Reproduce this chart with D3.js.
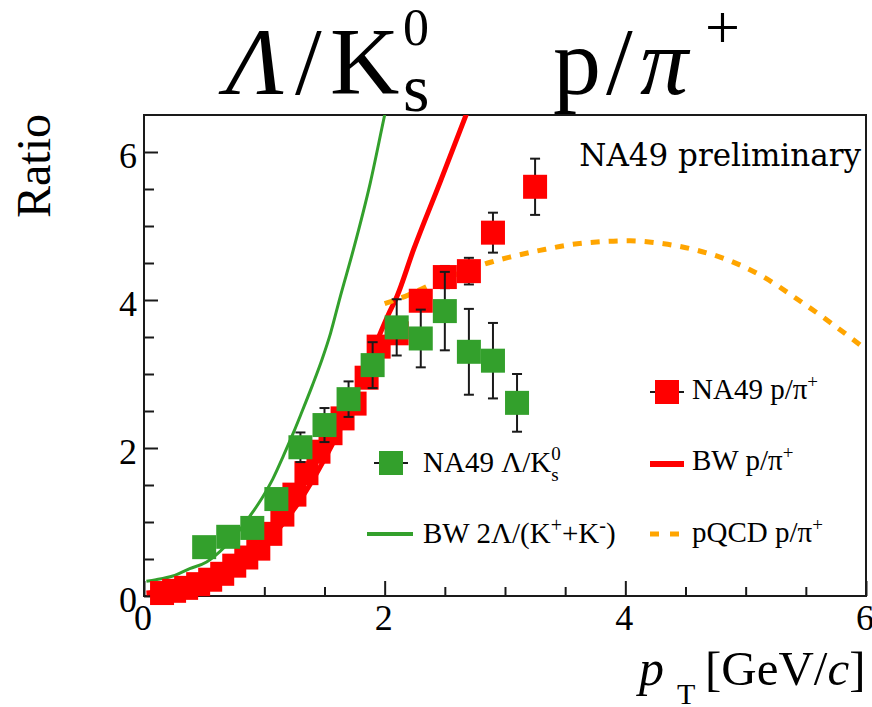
<!DOCTYPE html>
<html>
<head>
<meta charset="utf-8">
<script src="https://cdn.jsdelivr.net/npm/d3@7"></script>
<style>
  body { margin: 0; background: #fff; }
  svg { display: block; }
  text { font-family: "Liberation Serif", "Times New Roman", serif; fill: #000; }
</style>
</head>
<body>
<svg id="chart" width="872" height="707"></svg>
<script>
// ---- Data -------------------------------------------------------------
// NA49 Lambda / K0s ratio vs pT
const lambdaPt  = [0.5, 0.7, 0.9, 1.1, 1.3, 1.5, 1.7, 1.9, 2.1, 2.3, 2.5, 2.7, 2.9, 3.1];
const lambdaVal = [0.66, 0.80, 0.92, 1.31, 2.01, 2.31, 2.66, 3.12, 3.63, 3.48, 3.85, 3.30, 3.18, 2.61];
const lambdaErr = [0.05, 0.06, 0.08, 0.10, 0.20, 0.23, 0.24, 0.31, 0.38, 0.39, 0.53, 0.58, 0.51, 0.39];

// NA49 p / pi+ ratio vs pT
const ppiPt  = [0.15, 0.25, 0.35, 0.45, 0.55, 0.65, 0.75, 0.85, 0.95, 1.05, 1.15, 1.25, 1.35,
                1.45, 1.55, 1.65, 1.75, 1.85, 1.95, 2.1, 2.3, 2.5, 2.7, 2.9, 3.25];
const ppiVal = [0.04, 0.07, 0.11, 0.16, 0.22, 0.30, 0.41, 0.52, 0.64, 0.84, 1.10, 1.37, 1.66,
                1.95, 2.20, 2.40, 2.60, 2.95, 3.37, 3.55, 3.99, 4.31, 4.39, 4.91, 5.53];
const ppiErr = [0.01, 0.01, 0.01, 0.01, 0.01, 0.02, 0.02, 0.02, 0.03, 0.03, 0.04, 0.04, 0.05,
                0.05, 0.06, 0.06, 0.07, 0.08, 0.10, 0.12, 0.13, 0.15, 0.18, 0.27, 0.38];

// Blast-wave 2Lambda/(K+ + K-)
const bwLamPt  = [0.02, 0.10, 0.24, 0.38, 0.52, 0.63, 0.75, 0.88, 0.98, 1.07, 1.16, 1.24, 1.31,
                  1.40, 1.48, 1.55, 1.63, 1.74, 1.88, 2.00, 2.06];
const bwLamVal = [0.20, 0.22, 0.27, 0.37, 0.46, 0.60, 0.80, 1.08, 1.32, 1.58, 1.90, 2.20, 2.48,
                  2.85, 3.20, 3.55, 4.04, 4.68, 5.58, 6.50, 6.95];

// Blast-wave p/pi+
const bwPpiPt  = [0.02, 0.10, 0.30, 0.50, 0.70, 0.90, 1.10, 1.30, 1.50, 1.70, 1.85, 2.03, 2.10,
                  2.24, 2.46, 2.70];
const bwPpiVal = [0.04, 0.05, 0.09, 0.18, 0.33, 0.55, 0.87, 1.30, 1.85, 2.50, 3.10, 3.80, 4.04,
                  4.68, 5.59, 6.60];

// pQCD p/pi+
const pqcdPt  = [2.00, 2.20, 2.40, 2.65, 2.88, 3.04, 3.29, 3.60, 4.04, 4.32, 4.60, 4.87, 5.15,
                 5.43, 5.70, 6.00];
const pqcdVal = [3.95, 4.07, 4.22, 4.38, 4.51, 4.58, 4.67, 4.76, 4.80, 4.76, 4.67, 4.53, 4.31,
                 4.01, 3.70, 3.33];

const xTickLabels = [0, 2, 4, 6];
const yTickLabels = [0, 2, 4, 6];
const xMinorTicks = d3.range(0.5, 6, 0.5).filter(v => v % 2 !== 0);
const yMinorTicks = d3.range(0.5, 6.01, 0.5).filter(v => v % 2 !== 0);

// ---- Colours ------------------------------------------------------------
const RED = "#ff0000";
const GREEN = "#33a02c";
const ORANGE = "#ffa500";
const INK = "#1a1a1a";

// ---- Scales -------------------------------------------------------------
const svg = d3.select("#chart");
const plot = { left: 144, right: 866, top: 115, bottom: 596 };
const x = d3.scaleLinear().domain([0, 6]).range([plot.left, plot.right]);
const y = d3.scaleLinear().domain([0, 6.5]).range([plot.bottom, plot.top]);

svg.append("defs").append("clipPath").attr("id", "plotClip")
  .append("rect")
  .attr("x", plot.left).attr("y", plot.top)
  .attr("width", plot.right - plot.left).attr("height", plot.bottom - plot.top);

// ---- Frame & ticks ----------------------------------------------------
svg.append("rect")
  .attr("x", plot.left).attr("y", plot.top)
  .attr("width", plot.right - plot.left).attr("height", plot.bottom - plot.top)
  .attr("fill", "none").attr("stroke", INK).attr("stroke-width", 2);

function tickGroup(axis, transform) {
  const g = svg.append("g").attr("transform", transform).call(axis);
  g.select(".domain").remove();
  g.selectAll(".tick line").attr("stroke", INK).attr("stroke-width", 2);
  g.selectAll(".tick text").remove();
  return g;
}
tickGroup(d3.axisBottom(x).tickValues(xTickLabels).tickSize(-15), `translate(0,${plot.bottom})`);
tickGroup(d3.axisBottom(x).tickValues(xMinorTicks).tickSize(-9), `translate(0,${plot.bottom})`);
tickGroup(d3.axisLeft(y).tickValues(yTickLabels).tickSize(-14), `translate(${plot.left},0)`);
tickGroup(d3.axisLeft(y).tickValues(yMinorTicks).tickSize(-10), `translate(${plot.left},0)`);

// Tick labels
svg.append("g").selectAll("text").data(xTickLabels).join("text")
  .attr("x", d => x(d) - 1).attr("y", plot.bottom + 34)
  .attr("text-anchor", "middle").attr("font-size", 36)
  .text(d => d);
svg.append("g").selectAll("text").data(yTickLabels).join("text")
  .attr("x", plot.left - 7).attr("y", d => y(d) + 16)
  .attr("text-anchor", "end").attr("font-size", 36)
  .text(d => d);

// Axis titles
svg.append("text")
  .attr("transform", `translate(50,166) rotate(-90)`)
  .attr("text-anchor", "middle").attr("font-size", 48)
  .text("Ratio");

const xt = svg.append("g");
xt.append("text").attr("x", 639).attr("y", 685).attr("font-size", 50)
  .attr("font-style", "italic").text("p");
xt.append("text").attr("x", 677).attr("y", 704).attr("font-size", 30).text("T");
const xl = xt.append("text").attr("x", 705).attr("y", 685).attr("font-size", 49);
xl.append("tspan").text("[GeV/");
xl.append("tspan").attr("font-style", "italic").text("c");
xl.append("tspan").text("]");

// ---- Title ----------------------------------------------------------------
const titleParts = [
  { t: "\u039B", x: 226, y: 94, size: 96, italic: true },
  { t: "/", x: 295, y: 94, size: 96 },
  { t: "K", x: 330, y: 94, size: 96 },
  { t: "0", x: 403, y: 45, size: 52 },
  { t: "s", x: 403, y: 111, size: 68 },
  { t: "p", x: 553, y: 94, size: 96 },
  { t: "/", x: 606, y: 94, size: 96 },
  { t: "\u03C0", x: 640, y: 94, size: 96, italic: true },
  { t: "+", x: 705, y: 48, size: 62 }
];
svg.append("g").selectAll("text").data(titleParts).join("text")
  .attr("x", d => d.x).attr("y", d => d.y)
  .attr("font-size", d => d.size)
  .attr("font-style", d => d.italic ? "italic" : "normal")
  .text(d => d.t);

// Preliminary label
svg.append("text")
  .attr("x", 861).attr("y", 166).attr("text-anchor", "end")
  .style("font-family", "'DejaVu Serif', serif").attr("font-size", 31)
  .text("NA49 preliminary");

// ---- Curves ---------------------------------------------------------------
const curves = svg.append("g").attr("clip-path", "url(#plotClip)");
const lineGen = d3.line().x(d => x(d[0])).y(d => y(d[1])).curve(d3.curveMonotoneX);

// ---- Data points ----------------------------------------------------------
const MS = 24; // marker size in px
function drawPoints(pts, vals, errs, colour) {
  const g = svg.append("g");
  const rows = pts.map((p, i) => ({ p, v: vals[i], e: errs[i] }));
  const eb = g.append("g").attr("stroke", INK).attr("stroke-width", 2);
  rows.forEach(d => {
    const cx = x(d.p), y1 = y(d.v - d.e), y2 = y(d.v + d.e);
    eb.append("line").attr("x1", cx).attr("x2", cx).attr("y1", y1).attr("y2", y2);
    eb.append("line").attr("x1", cx - 5).attr("x2", cx + 5).attr("y1", y1).attr("y2", y1);
    eb.append("line").attr("x1", cx - 5).attr("x2", cx + 5).attr("y1", y2).attr("y2", y2);
  });
  g.append("g").selectAll("rect").data(rows).join("rect")
    .attr("x", d => x(d.p) - MS / 2).attr("y", d => y(d.v) - MS / 2)
    .attr("width", MS).attr("height", MS).attr("fill", colour);
  return g;
}

drawPoints(ppiPt, ppiVal, ppiErr, RED);

curves.append("path")
  .datum(bwPpiPt.map((p, i) => [p, bwPpiVal[i]]))
  .attr("d", lineGen).attr("fill", "none")
  .attr("stroke", RED).attr("stroke-width", 5);

curves.append("path")
  .datum(bwLamPt.map((p, i) => [p, bwLamVal[i]]))
  .attr("d", lineGen).attr("fill", "none")
  .attr("stroke", GREEN).attr("stroke-width", 3);

curves.append("path")
  .datum(pqcdPt.map((p, i) => [p, pqcdVal[i]]))
  .attr("d", lineGen).attr("fill", "none")
  .attr("stroke", ORANGE).attr("stroke-width", 5)
  .attr("stroke-dasharray", "9,9");

drawPoints(lambdaPt, lambdaVal, lambdaErr, GREEN);

// ---- Legend ---------------------------------------------------------------
const legend = svg.append("g");
const LFS = 29;

// Writes a run of text pieces; pieces flagged "stack" share their x with the next piece.
function richText(x0, y0, parts) {
  let cx = x0, stackW = 0;
  parts.forEach(p => {
    const t = legend.append("text")
      .attr("x", cx).attr("y", y0 + (p.dy || 0))
      .attr("font-size", p.size || LFS)
      .attr("font-style", p.italic ? "italic" : "normal")
      .text(p.t);
    const w = t.node().getComputedTextLength();
    if (p.stack) { stackW = Math.max(stackW, w); }
    else { cx += Math.max(w, stackW); stackW = 0; }
  });
}

function markerEntry(cx, cy, colour) {
  legend.append("line").attr("x1", cx - 17).attr("x2", cx + 17)
    .attr("y1", cy).attr("y2", cy).attr("stroke", INK).attr("stroke-width", 2);
  legend.append("rect").attr("x", cx - 12).attr("y", cy - 12)
    .attr("width", MS).attr("height", MS).attr("fill", colour);
}

// NA49 p/pi+
markerEntry(667, 392, RED);
richText(692, 399, [
  { t: "NA49 p/\u03C0" }, { t: "+", size: 19, dy: -11 }
]);

// NA49 Lambda/K0s
markerEntry(391, 463, GREEN);
richText(423, 472, [
  { t: "NA49 \u039B/K" },
  { t: "0", size: 19, dy: -12, stack: true },
  { t: "s", size: 19, dy: 9 }
]);

// BW p/pi+
legend.append("line").attr("x1", 650).attr("x2", 684).attr("y1", 464).attr("y2", 464)
  .attr("stroke", RED).attr("stroke-width", 6);
richText(692, 470, [
  { t: "BW p/\u03C0" }, { t: "+", size: 19, dy: -11 }
]);

// BW 2Lambda/(K+ + K-)
legend.append("line").attr("x1", 367).attr("x2", 413).attr("y1", 534).attr("y2", 534)
  .attr("stroke", GREEN).attr("stroke-width", 4);
richText(423, 543, [
  { t: "BW 2\u039B/(K" }, { t: "+", size: 20, dy: -11 },
  { t: "+K" }, { t: "-", size: 20, dy: -11 }, { t: ")" }
]);

// pQCD p/pi+
legend.append("line").attr("x1", 650).attr("x2", 680).attr("y1", 534).attr("y2", 534)
  .attr("stroke", ORANGE).attr("stroke-width", 5).attr("stroke-dasharray", "9,11");
richText(692, 542, [
  { t: "pQCD p/\u03C0" }, { t: "+", size: 19, dy: -11 }
]);
</script>
</body>
</html>
